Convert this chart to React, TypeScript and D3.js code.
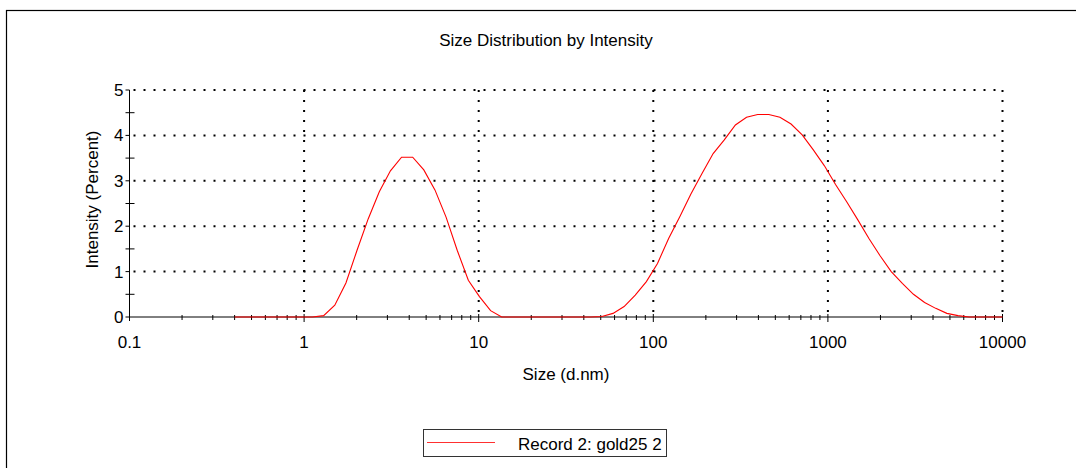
import React from "react";
import * as d3 from "d3";

// Malvern size classes (d.nm) and the intensity (%)
const sizes = [
  0.4, 0.4632, 0.5365, 0.6213, 0.7195, 0.8332, 0.9649, 1.117, 1.294, 1.499,
  1.736, 2.01, 2.328, 2.696, 3.122, 3.615, 4.187, 4.849, 5.615, 6.503,
  7.531, 8.721, 10.1, 11.7, 13.54, 15.69, 18.17, 21.04, 24.36, 28.21,
  32.67, 37.84, 43.82, 50.75, 58.77, 68.06, 78.82, 91.28, 105.7, 122.4,
  141.8, 164.2, 190.1, 220.2, 255.0, 295.3, 342.0, 396.1, 458.7, 531.2,
  615.1, 712.4, 825.0, 955.4, 1106, 1281, 1484, 1718, 1990, 2305,
  2669, 3091, 3580, 4145, 4801, 5560, 6439, 7456, 8635, 10000,
];
const intensity = [
  0, 0, 0, 0, 0, 0, 0, 0, 0.03, 0.26,
  0.75, 1.47, 2.16, 2.76, 3.22, 3.52, 3.52, 3.24, 2.8, 2.2,
  1.47, 0.81, 0.45, 0.14, 0, 0, 0, 0, 0, 0,
  0, 0, 0, 0.01, 0.08, 0.23, 0.48, 0.78, 1.18, 1.73,
  2.21, 2.71, 3.16, 3.6, 3.9, 4.23, 4.4, 4.46, 4.46, 4.4,
  4.25, 4.01, 3.68, 3.33, 2.92, 2.54, 2.14, 1.73, 1.35, 1.0,
  0.74, 0.5, 0.32, 0.19, 0.08, 0.03, 0, 0, 0, 0,
];
const xTicks = [0.1, 1, 10, 100, 1000, 10000];
const xTickLabels = ["0.1", "1", "10", "100", "1000", "10000"];
const yTicks = [0, 1, 2, 3, 4, 5];
const seriesName = "Record 2: gold25 2";

const FONT = "'Liberation Sans', Arial, sans-serif";

export default function App() {
  const x = d3.scaleLog().domain([0.1, 10000]).range([129.5, 1002.5]);
  const y = d3.scaleLinear().domain([0, 5]).range([317, 90]);

  const points = sizes.map((s, i) => [s, intensity[i]] as [number, number]);
  const line = d3
    .line<[number, number]>()
    .x((d) => x(d[0]))
    .y((d) => y(d[1]));

  // minor ticks 2..9 in every decade
  const minorX: number[] = [];
  for (let e = -1; e < 4; e++) {
    for (let m = 2; m <= 9; m++) minorX.push(m * Math.pow(10, e));
  }
  const halfY = d3.range(0.5, 5, 1);

  const [x0, x1] = x.range();
  const [y0, y1] = y.range();

  return (
    <svg
      width={1076}
      height={468}
      style={{ position: "absolute", left: 0, top: 0, background: "#fff" }}
      fontFamily={FONT}
    >
      <rect x={6.5} y={10.5} width={1200} height={600} fill="none" stroke="#000" strokeWidth={1.2} />

      <text x={546} y={46} textAnchor="middle" fontSize={17} fill="#000">
        Size Distribution by Intensity
      </text>

      {/* dotted grid */}
      <g stroke="#000" strokeWidth={2} strokeDasharray="2 8">
        {yTicks.slice(1).map((t) => (
          <line key={"h" + t} x1={x0 + 4} x2={x1} y1={y(t)} y2={y(t)} />
        ))}
        {xTicks.slice(1).map((t) => (
          <line key={"v" + t} x1={x(t)} x2={x(t)} y1={y1} y2={y0 - 2} />
        ))}
      </g>

      {/* axes */}
      <g stroke="#000" strokeWidth={1}>
        <line x1={x0} x2={x0} y1={y1} y2={y0 + 4} />
        <line x1={x0} x2={x1} y1={y0} y2={y0} />
        {yTicks.map((t) => (
          <line key={"yt" + t} x1={x0 - 4} x2={x0} y1={y(t)} y2={y(t)} />
        ))}
        {halfY.map((t) => (
          <line key={"yh" + t} x1={x0 - 4} x2={x0 + 5} y1={y(t)} y2={y(t)} />
        ))}
        {xTicks.slice(1).map((t) => (
          <line key={"xt" + t} x1={x(t)} x2={x(t)} y1={y0 - 3} y2={y0 + 5} />
        ))}
        {minorX.map((t) => (
          <line key={"xm" + t} x1={x(t)} x2={x(t)} y1={y0 - 2} y2={y0 + 3} />
        ))}
      </g>

      <path d={line(points) || ""} fill="none" stroke="#ff0000" strokeWidth={1.1} />

      {/* tick labels */}
      <g fontSize={17} fill="#000">
        {yTicks.map((t) => (
          <text key={"yl" + t} x={x0 - 6} y={y(t) + 6} textAnchor="end">
            {t}
          </text>
        ))}
        {xTicks.map((t, i) => (
          <text key={"xl" + t} x={x(t)} y={348} textAnchor="middle">
            {xTickLabels[i]}
          </text>
        ))}
      </g>

      <text x={566} y={380} textAnchor="middle" fontSize={17} fill="#000">
        Size (d.nm)
      </text>
      <text
        transform="translate(97.5,199.5) rotate(-90)"
        textAnchor="middle"
        fontSize={17}
        fill="#000"
      >
        Intensity (Percent)
      </text>

      {/* legend */}
      <rect x={423.5} y={429.5} width={243} height={27} fill="#fff" stroke="#333" strokeWidth={1} />
      <line x1={427} x2={495} y1={442.5} y2={442.5} stroke="#ff3030" strokeWidth={1.2} />
      <text x={518} y={449.5} fontSize={17} fill="#000">
        {seriesName}
      </text>
    </svg>
  );
}
